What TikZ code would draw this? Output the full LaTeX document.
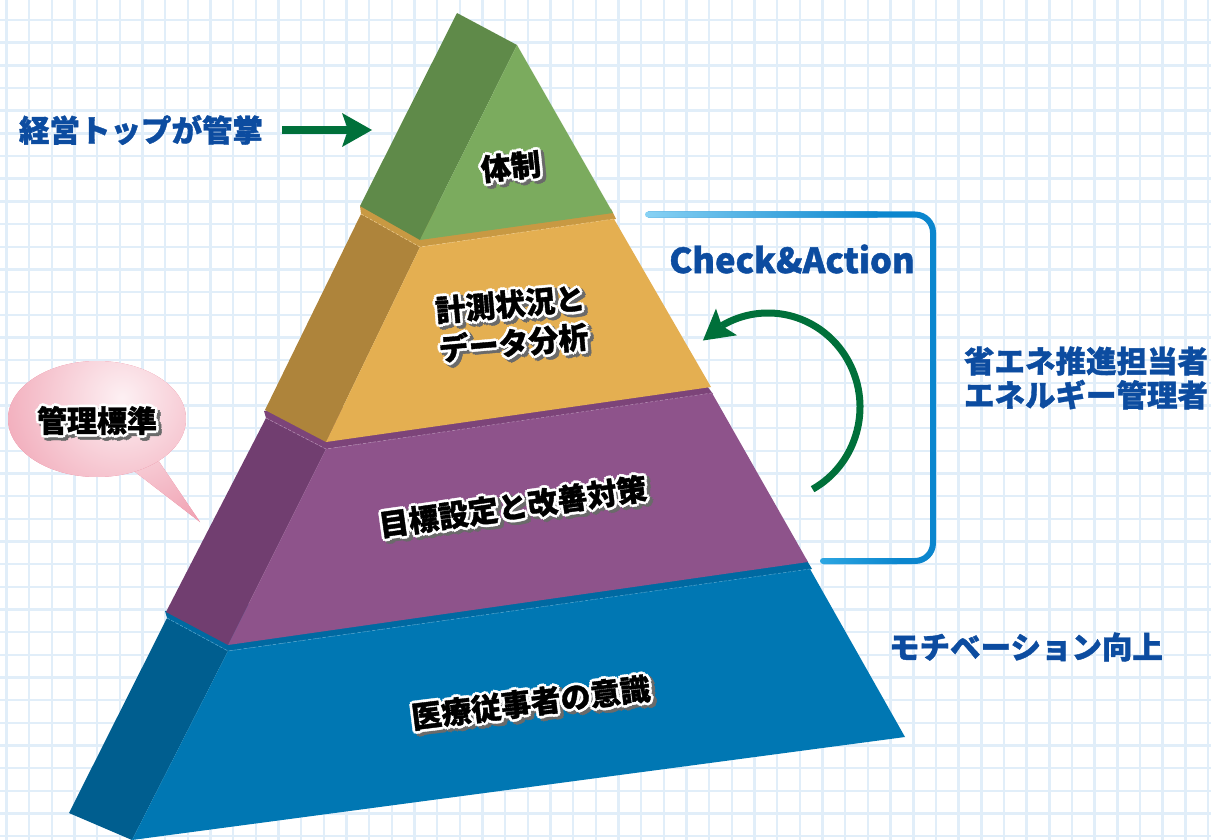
\documentclass[tikz,border=0pt]{standalone}
\usepackage{fontspec}
\newfontfamily\jp{Noto Sans CJK JP}[BoldFeatures={FakeBold=1.2}]
\usetikzlibrary{arrows.meta,bending}
\definecolor{gridc}{HTML}{E1EEF9}
\definecolor{txtblue}{HTML}{0C4CA0}
\definecolor{agreen}{HTML}{00703A}
\definecolor{brk}{HTML}{0B86CE}
\definecolor{brkl}{HTML}{88D2F4}
\definecolor{brkm}{HTML}{2CA6E2}
\definecolor{gF}{HTML}{7BAB5E}
\definecolor{gS}{HTML}{5F8A49}
\definecolor{oF}{HTML}{E4AF51}
\definecolor{oS}{HTML}{AE843B}
\definecolor{oL}{HTML}{C89943}
\definecolor{pF}{HTML}{8E538B}
\definecolor{pS}{HTML}{713E70}
\definecolor{pL}{HTML}{7C4479}
\definecolor{bF}{HTML}{0077B3}
\definecolor{bS}{HTML}{005E8F}
\definecolor{bL}{HTML}{0069A1}
\definecolor{shadowc}{HTML}{6A6A6A}
\definecolor{pinkin}{HTML}{FDF0F3}
\definecolor{pinkout}{HTML}{E8728B}
\newcommand\sh[3]{\makebox[0pt][l]{\hspace*{#1}\raisebox{#2}{#3}}}
\newcommand\ring[4]{%
 \sh{\dimexpr#1+2.8pt\relax}{\dimexpr#2\relax}{\color{#3}#4}%
 \sh{\dimexpr#1-2.8pt\relax}{\dimexpr#2\relax}{\color{#3}#4}%
 \sh{\dimexpr#1\relax}{\dimexpr#2+2.8pt\relax}{\color{#3}#4}%
 \sh{\dimexpr#1\relax}{\dimexpr#2-2.8pt\relax}{\color{#3}#4}%
 \sh{\dimexpr#1+2pt\relax}{\dimexpr#2+2pt\relax}{\color{#3}#4}%
 \sh{\dimexpr#1-2pt\relax}{\dimexpr#2+2pt\relax}{\color{#3}#4}%
 \sh{\dimexpr#1+2pt\relax}{\dimexpr#2-2pt\relax}{\color{#3}#4}%
 \sh{\dimexpr#1-2pt\relax}{\dimexpr#2-2pt\relax}{\color{#3}#4}}
\newcommand\otext[1]{\ring{3pt}{-3pt}{shadowc}{#1}\ring{0pt}{0pt}{white}{#1}#1}
\begin{document}
\begin{tikzpicture}[x=1pt,y=-1pt,
  gridline/.style={draw=gridc,line width=2.4pt},
  lab/.style={font=\jp\bfseries\fontsize{30}{33}\selectfont,inner sep=0pt,align=center,text=black},
  blab/.style={font=\jp\bfseries\fontsize{30.5}{34}\selectfont,inner sep=0pt,align=center,text=txtblue},
  garrow/.style={draw=agreen,line width=8pt,-{Stealth[length=30pt,width=34pt,inset=6pt,line width=0pt]}},
  carrow/.style={draw=agreen,line width=7pt,-{Stealth[length=30pt,width=34pt,inset=6pt,line width=0pt,flex=1]}},
  bracket/.style={draw=brk,line width=6pt,rounded corners=18pt},
  ledgeline/.style={dashed,dash pattern=on 3pt off 2pt,line width=0.6pt},
  bubblefill/.style={path picture={\fill[pinkout] (0,330) rectangle (240,540);
     \shade[inner color=pinkin,outer color=pinkout] (122,398) circle (230);}}]
\useasboundingbox (0,0) rectangle (1211,840);
\fill[white] (0,0) rectangle (1211,840);
\foreach \i in {0,...,53} \draw[gridline] ({6.5+22.67*\i},0) -- ++(0,840);
\foreach \j in {0,...,37} \draw[gridline] (0,{20+22.67*\j}) -- ++(1211,0);

% bracket
\coordinate (bt) at (648,214.5);
\coordinate (bc) at (933,561);
\coordinate (bb) at (823,561);
\draw[bracket] (bt) -| (bc) -- (bb);
\shade[left color=brkl,right color=brk,rounded corners=3pt] (645,211.5) rectangle (880,217.5);
\shade[left color=brkm,right color=brk,rounded corners=3pt] (820,558) rectangle (900,564);

% blue tier
\fill[bL] (165,611) -- (806,559) -- (812,569) -- (228,651) -- (167,618) -- cycle;
\fill[bS] (167,618) -- (228,651) -- (132,840) -- (69,813) -- cycle;
\fill[bF] (228,651) -- (810,569) -- (905,737) -- (132,840) -- cycle;
\draw[ledgeline,draw=bF!70!white] (167,618) -- (228,651) -- (810,569);
% purple tier
\fill[pL] (264,411) -- (707,386) -- (713,394) -- (326,449) -- (266,418) -- cycle;
\fill[pS] (266,418) -- (326,449) -- (228,645) -- (166,612) -- cycle;
\fill[pF] (326,449) -- (712,393) -- (808,562) -- (228,645) -- cycle;
\draw[ledgeline,draw=pF!70!white] (266,418) -- (326,449) -- (712,393);
% orange tier
\fill[oL] (360,206) -- (611,209) -- (616,219) -- (420,247) -- (361,214) -- cycle;
\fill[oS] (361,214) -- (420,247) -- (326,442) -- (265,410) -- cycle;
\fill[oF] (420,247) -- (614,219) -- (711,387) -- (326,442) -- cycle;
\draw[ledgeline,draw=oF!70!white] (361,214) -- (420,247) -- (614,219);
% green tier
\fill[gS] (457,13) -- (517,45) -- (420,240) -- (360,206) -- cycle;
\fill[gF] (517,45) -- (613,213) -- (420,240) -- cycle;

% pyramid labels
\node[lab,rotate=6] (taisei) at (511,168) {\otext{体制}};
\node[lab,rotate=5] (keisoku) at (512,325) {\otext{計測状況と}\\\otext{データ分析}};
\node[lab,rotate=8] (mokuhyo) at (513,508) {\otext{目標設定と改善対策}};
\node[lab,rotate=7] (iryo) at (531,704) {\otext{医療従事者の意識}};

% bubble
\path[bubblefill] (130,468) -- (200,522) -- (158,460) -- cycle;
\path[bubblefill] (97,419) ellipse [x radius=89,y radius=58];
\node[lab] (kanri) at (97,422) {\otext{管理標準}};

% blue labels
\node[blab] (keiei) at (141,130) {経営トップが管掌};
\node[blab] (shoene) at (1086,378) {省エネ推進担当者\\エネルギー管理者};
\node[blab] (motiv) at (1026,647) {モチベーション向上};
\node[blab,font=\jp\bfseries\fontsize{34.5}{36}\selectfont] (check) at (792,259) {Check\&Action};

% arrows
\coordinate (ga1) at (372,130);
\draw[garrow] ([xshift=19pt]keiei.east) -- (ga1);
\coordinate (ca0) at (812.6,489.2);
\draw[carrow] (ca0) arc[start angle=61,end angle=-135,x radius=92,y radius=94];
\end{tikzpicture}
\end{document}
